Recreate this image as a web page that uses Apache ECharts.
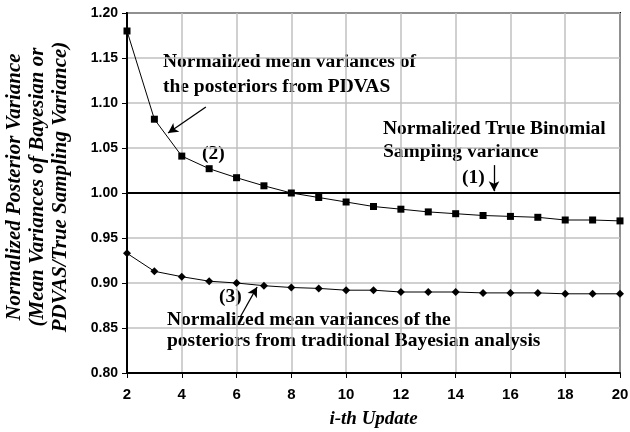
<!DOCTYPE html>
<html>
<head>
<meta charset="utf-8">
<script src="https://cdn.jsdelivr.net/npm/echarts@6/dist/echarts.min.js"></script>
<style>
  html, body { margin: 0; padding: 0; background: #fff; }
  #main { width: 630px; height: 432px; }
</style>
</head>
<body>
<div id="main"></div>
<script>
// data
var updates = [2, 3, 4, 5, 6, 7, 8, 9, 10, 11, 12, 13, 14, 15, 16, 17, 18, 19, 20];
var pdvas = [1.180, 1.082, 1.041, 1.027, 1.017, 1.008, 1.000, 0.995, 0.990, 0.985, 0.982, 0.979, 0.977, 0.975, 0.974, 0.973, 0.970, 0.970, 0.969];
var bayes = [0.933, 0.913, 0.907, 0.902, 0.900, 0.897, 0.895, 0.894, 0.892, 0.892, 0.890, 0.890, 0.890, 0.889, 0.889, 0.889, 0.888, 0.888, 0.888];
var trueVar = [1.0, 1.0];
var trueX = [2, 20];
var xTicks = [2, 4, 6, 8, 10, 12, 14, 16, 18, 20];
var yTicks = [0.80, 0.85, 0.90, 0.95, 1.00, 1.05, 1.10, 1.15, 1.20];

// arrows: [fromX, fromY, toX, toY] in data units
var arrows = [
  [4.88, 1.0956, 3.50, 1.0667],
  [15.40, 1.031, 15.40, 1.002],
  [6.13, 0.862, 6.75, 0.8956]
];

function pairs(xs, ys) {
  return xs.map(function (x, i) { return [x, ys[i]]; });
}

var serif = '"Liberation Serif", "Times New Roman", serif';
var sans = '"Liberation Sans", Arial, sans-serif';

function note(x, y, text, lh) {
  return {
    type: 'text', left: x, top: y,
    style: { text: text, fontFamily: serif, fontWeight: 'bold', fontSize: 19.5, fill: '#000', lineHeight: lh || 25 }
  };
}

var myChart = echarts.init(document.getElementById('main'));
var option = {
  animation: false,
  grid: {
    left: 127, right: 10, top: 13, bottom: 59,
    containLabel: false, outerBoundsMode: 'none',
    show: true, borderColor: '#000', borderWidth: 2, backgroundColor: '#fff'
  },
  xAxis: {
    type: 'value', min: xTicks[0], max: xTicks[xTicks.length - 1], interval: 2,
    name: 'i-th Update', nameLocation: 'middle', nameGap: 37,
    nameTextStyle: { fontFamily: serif, fontStyle: 'italic', fontWeight: 'bold', fontSize: 19, color: '#000' },
    axisLine: { lineStyle: { color: '#000', width: 2 } },
    axisTick: { show: true, length: 5, lineStyle: { color: '#000' } },
    axisLabel: { fontFamily: sans, fontWeight: 'bold', fontSize: 15, color: '#000', margin: 14 },
    splitLine: { show: true, lineStyle: { color: '#c0c0c0', width: 1.5 } }
  },
  yAxis: {
    type: 'value', min: yTicks[0], max: yTicks[yTicks.length - 1], interval: 0.05,
    axisLine: { lineStyle: { color: '#000', width: 2 } },
    axisTick: { show: true, length: 5, lineStyle: { color: '#000' } },
    axisLabel: {
      fontFamily: sans, fontWeight: 'bold', fontSize: 14, color: '#000', margin: 9,
      formatter: function (v) { return v.toFixed(2); }
    },
    splitLine: { show: true, lineStyle: { color: '#c0c0c0', width: 1.5 } }
  },
  series: [
    {
      name: 'True', type: 'line', data: pairs(trueX, trueVar),
      symbol: 'none', lineStyle: { color: '#000', width: 2 }, z: 3,
      markLine: {
        silent: true, symbol: ['none', 'arrow'], symbolSize: [8, 10],
        lineStyle: { color: '#000', width: 1.3, type: 'solid' },
        label: { show: false },
        data: arrows.map(function (a) {
          return [{ coord: [a[0], a[1]] }, { coord: [a[2], a[3]] }];
        })
      }
    },
    {
      name: 'PDVAS', type: 'line', data: pairs(updates, pdvas),
      symbol: 'rect', symbolSize: 7, showAllSymbol: true,
      itemStyle: { color: '#000' }, lineStyle: { color: '#000', width: 1 }, z: 4
    },
    {
      name: 'Bayesian', type: 'line', data: pairs(updates, bayes),
      symbol: 'diamond', symbolSize: 8, showAllSymbol: true,
      itemStyle: { color: '#000' }, lineStyle: { color: '#000', width: 1 }, z: 4
    }
  ],
  graphic: [
    {
      type: 'text', x: 38, y: 187, rotation: Math.PI / 2,
      style: {
        text: 'Normalized Posterior Variance\n(Mean Variances of Bayesian or\nPDVAS/True Sampling Variance)',
        fontFamily: serif, fontStyle: 'italic', fontWeight: 'bold', fontSize: 21, lineHeight: 23,
        fill: '#000', align: 'center', verticalAlign: 'middle'
      }
    },
    note(163, 49, 'Normalized mean variances of\nthe posteriors from PDVAS', 25),
    note(202, 141, '(2)'),
    note(383, 117, 'Normalized True Binomial\nSampling variance', 23),
    note(462, 165, '(1)'),
    note(219, 284, '(3)'),
    note(167, 309, 'Normalized mean variances of the\nposteriors from traditional Bayesian analysis', 21.5)
  ]
};
myChart.setOption(option);
</script>
</body>
</html>
